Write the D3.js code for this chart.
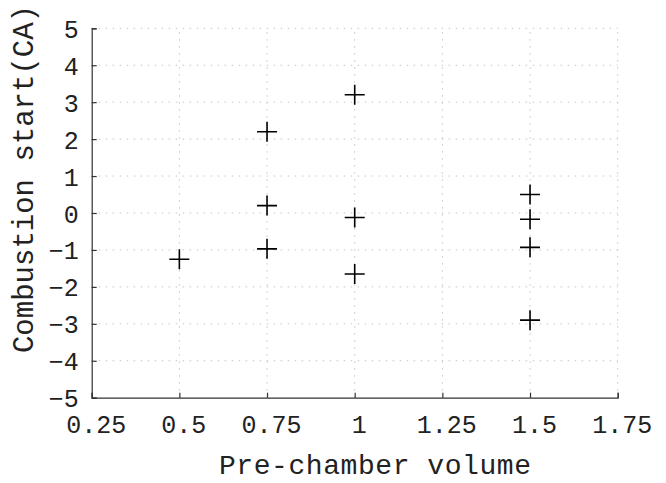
<!DOCTYPE html>
<html>
<head>
<meta charset="utf-8">
<script src="https://cdn.jsdelivr.net/npm/d3@7"></script>
<style>
  body { margin: 0; background: #fff; }
  text { font-family: "Liberation Mono", "DejaVu Sans Mono", monospace; fill: #222; }
</style>
</head>
<body>
<svg id="chart" width="666" height="483"></svg>
<script>
// Data
const volumes = [0.5, 0.75, 0.75, 0.75, 1, 1, 1, 1.5, 1.5, 1.5, 1.5];
const combustionStart = [-1.25, 2.2, 0.2, -0.97, 3.2, -0.12, -1.65, 0.5, -0.17, -0.93, -2.9];
const xTicks = [0.25, 0.5, 0.75, 1, 1.25, 1.5, 1.75];
const yTicks = [-5, -4, -3, -2, -1, 0, 1, 2, 3, 4, 5];

const svg = d3.select('#chart');
const margin = { left: 91.7, right: 666 - 617.7, top: 28.3, bottom: 483 - 397.7 };
const width = +svg.attr('width');
const height = +svg.attr('height');

const x = d3.scaleLinear().domain([0.25, 1.75]).range([margin.left, width - margin.right]);
const y = d3.scaleLinear().domain([-5, 5]).range([height - margin.bottom, margin.top]);

// Dotted grid
const grid = svg.append('g').attr('class', 'grid')
  .attr('stroke', '#c4c4c4').attr('stroke-width', 1).attr('stroke-dasharray', '1.5,5.5');
grid.selectAll('line.v').data(xTicks.slice(1)).enter().append('line')
  .attr('class', 'v')
  .attr('x1', d => x(d)).attr('x2', d => x(d))
  .attr('y1', y(-5)).attr('y2', y(5));
grid.selectAll('line.h').data(yTicks.slice(1)).enter().append('line')
  .attr('class', 'h')
  .attr('x1', x(0.25)).attr('x2', x(1.75))
  .attr('y1', d => y(d)).attr('y2', d => y(d));

// Axes with inward ticks
const xAxis = svg.append('g')
  .attr('transform', `translate(0,${y(-5)})`)
  .call(d3.axisBottom(x).tickValues(xTicks).tickSize(-5).tickPadding(18).tickFormat(d3.format('')));
const yAxis = svg.append('g')
  .attr('transform', `translate(${x(0.25)},0)`)
  .call(d3.axisLeft(y).tickValues(yTicks).tickSize(-5).tickPadding(14).tickFormat(d => d < 0 ? '\u2212' + Math.abs(d) : d));

[xAxis, yAxis].forEach(ax => {
  ax.select('.domain').attr('stroke', '#333').attr('stroke-width', 1.2);
  ax.selectAll('.tick line').attr('stroke', '#333').attr('stroke-width', 1.2);
  ax.selectAll('.tick text').attr('fill', '#222').style('font-size', '25px');
});
xAxis.selectAll('.tick text').attr('dx', 4);
yAxis.selectAll('.tick text').attr('dx', 1).attr('dy', '0.36em');

// Axis labels
svg.append('text')
  .attr('x', 375).attr('y', 474)
  .attr('text-anchor', 'middle')
  .style('font-size', '28px')
  .attr('textLength', 312)
  .text('Pre-chamber volume');
svg.append('text')
  .attr('transform', 'translate(33,179) rotate(-90)')
  .attr('text-anchor', 'middle')
  .style('font-size', '29px')
  .text('Combustion start(CA)');

// Plus markers
const pts = volumes.map((v, i) => ({ v: v, c: combustionStart[i] }));
const half = 10;
const marks = svg.append('g').attr('stroke', '#000').attr('stroke-width', 1.6);
marks.selectAll('path').data(pts).enter().append('path')
  .attr('d', d => `M${x(d.v) - half},${y(d.c)}h${2 * half}M${x(d.v)},${y(d.c) - half}v${2 * half}`);
</script>
</body>
</html>
